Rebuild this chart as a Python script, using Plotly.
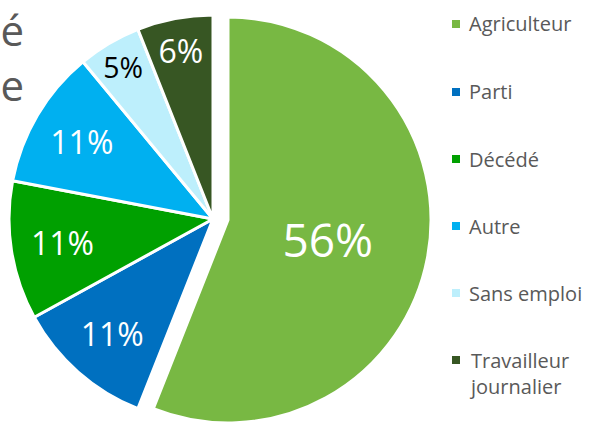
import plotly.graph_objects as go

# Share of each situation (percent)
categories = ['Agriculteur', 'Parti', 'Décédé', 'Autre', 'Sans emploi', 'Travailleur journalier']
legend_labels = ['Agriculteur', 'Parti', 'Décédé', 'Autre', 'Sans emploi', 'Travailleur<br>journalier']
values = [56, 11, 11, 11, 5, 6]
colors = ['#78B843', '#0070C0', '#00A000', '#00B0F0', '#BDEFFC', '#375623']
text_colors = ['white', 'white', 'white', 'white', 'black', 'white']
text_sizes = [46, 32, 32, 32, 32, 32]

W, H = 590, 423


def domain(left, top, right, bottom):
    # pixel box (from top-left) -> paper domain
    return dict(x=[max(0, left / W), min(1, right / W)],
                y=[max(0, 1 - bottom / H), min(1, 1 - top / H)])


clear = 'rgba(0,0,0,0)'
n = len(values)

fig = go.Figure()
# the pie without the exploded slice
fig.add_trace(go.Pie(
    labels=categories, values=values, sort=False,
    direction='clockwise', rotation=0,
    marker=dict(colors=[clear] + colors[1:],
                line=dict(color='white', width=[0] + [3] * (n - 1))),
    texttemplate=[''] + ['%{percent:.0%}'] * (n - 1),
    textposition='inside', insidetextorientation='horizontal',
    textfont=dict(family='Open Sans', size=text_sizes, color=text_colors),
    domain=domain(9, 15, 417, 423), showlegend=False, hoverinfo='label+percent',
))
# the exploded slice (Agriculteur), shifted right/down
fig.add_trace(go.Pie(
    labels=categories, values=values, sort=False,
    direction='clockwise', rotation=0,
    marker=dict(colors=[colors[0]] + [clear] * (n - 1),
                line=dict(color='white', width=[3] + [0] * (n - 1))),
    texttemplate=['%{percent:.0%}'] + [''] * (n - 1),
    textposition='inside', insidetextorientation='horizontal',
    textfont=dict(family='Open Sans', size=text_sizes, color=text_colors),
    domain=domain(25, 17, 431, 423), showlegend=False, hoverinfo='skip',
))

# title, mostly clipped at the left edge like in the original
fig.add_annotation(x=26 / W, y=1 - 57 / H, xref='paper', yref='paper',
                   xanchor='right', yanchor='middle', align='right', showarrow=False,
                   text='Activité<br>principale',
                   font=dict(family='Open Sans', size=42, color='#595959'))

# legend drawn by hand to get the wide spacing
legend_y = [24, 92, 159, 226, 293, 373]
for lab, col, py in zip(legend_labels, colors, legend_y):
    sq_y = py if '<br>' not in lab else py - 13
    fig.add_shape(type='rect', xref='paper', yref='paper',
                  x0=452 / W, x1=460 / W, y0=1 - (sq_y + 4) / H, y1=1 - (sq_y - 4) / H,
                  fillcolor=col, line=dict(width=0))
    fig.add_annotation(x=467 / W, y=1 - py / H, xref='paper', yref='paper',
                       xanchor='left', yanchor='middle', align='left', showarrow=False,
                       text=lab, font=dict(family='Open Sans', size=20, color='#595959'))

fig.update_layout(
    width=W, height=H,
    margin=dict(l=0, r=0, t=0, b=0),
    paper_bgcolor='white',
    plot_bgcolor='white',
)

# drop the browser's default body margin so the figure sits at the page corner
fig.write_html('out.html', config={'displayModeBar': False},
               post_script="document.body.style.margin='0';")
